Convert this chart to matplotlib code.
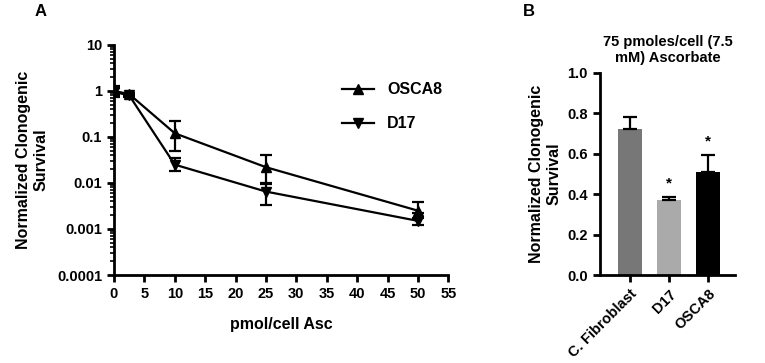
import numpy as np
import matplotlib
matplotlib.use("Agg")
import matplotlib.pyplot as plt

plt.rcParams['font.family'] = ['Liberation Sans', 'DejaVu Sans']
plt.rcParams['font.weight'] = 'bold'

# panel A data
dose = [0, 2.5, 10, 25, 50]
osca8 = [1.0, 0.85, 0.12, 0.022, 0.0025]
osca8_hi = [1.25, 0.9, 0.22, 0.04, 0.0039]
osca8_lo = [0.8, 0.8, 0.05, 0.01, 0.0017]
d17 = [0.95, 0.8, 0.025, 0.0065, 0.0015]
d17_hi = [1.15, 0.85, 0.035, 0.0095, 0.0022]
d17_lo = [0.75, 0.75, 0.018, 0.0034, 0.0012]

# panel B data
cells = ['C. Fibroblast', 'D17', 'OSCA8']
surv = [0.72, 0.37, 0.51]
surv_err = [0.06, 0.015, 0.085]
star_y = [None, 0.455, 0.66]
bar_colors = ['#777777', '#aaaaaa', '#000000']

fig = plt.figure(figsize=(7.65, 3.63), dpi=100)

# ---- A
ax = fig.add_axes([0.149, 0.2424, 0.437, 0.634])
lw = 1.6
for y, lo, hi, mk, lab in [(osca8, osca8_lo, osca8_hi, '^', 'OSCA8'),
                           (d17, d17_lo, d17_hi, 'v', 'D17')]:
    y = np.array(y)
    err = [y - np.array(lo), np.array(hi) - y]
    ax.errorbar(dose, y, yerr=err, fmt='none', ecolor='black',
                elinewidth=lw, capsize=4, capthick=lw)
    ax.plot(dose, y, color='black', marker=mk, markersize=7, lw=lw, label=lab)
ax.set_yscale('log')
ax.set_ylim(1e-4, 10)
ax.set_xlim(0, 55)
ax.set_xticks(range(0, 56, 5))
ax.set_yticks([1e-4, 1e-3, 1e-2, 1e-1, 1, 10])
ax.set_yticklabels(['0.0001', '0.001', '0.01', '0.1', '1', '10'])
ax.spines['top'].set_visible(False)
ax.spines['right'].set_visible(False)
for s in ['left', 'bottom']:
    ax.spines[s].set_linewidth(2)
ax.tick_params(axis='both', which='major', width=2, length=5, labelsize=10.5)
ax.tick_params(axis='y', which='minor', width=1.2, length=3)
ax.set_xlabel('pmol/cell Asc', fontsize=11.5, fontweight='bold', labelpad=12)
ax.set_ylabel('Normalized Clonogenic\nSurvival', fontsize=11.5, fontweight='bold', labelpad=6)
ax.legend(loc='upper left', bbox_to_anchor=(0.64, 0.9), frameon=False,
          fontsize=11.5, handlelength=2.0, labelspacing=1.2)
fig.text(0.045, 0.955, 'A', fontsize=12, fontweight='bold')

# ---- B
bx = fig.add_axes([0.784, 0.2424, 0.177, 0.557])
pos = np.arange(len(cells))
bx.bar(pos, surv, width=0.62, color=bar_colors,
       yerr=[[0] * 3, surv_err], capsize=5,
       error_kw=dict(elinewidth=1.6, capthick=1.6, ecolor='black'))
for i, sy in enumerate(star_y):
    if sy is not None:
        bx.text(pos[i], sy, '*', ha='center', va='center', fontsize=11)
bx.set_xlim(-0.77, 2.69)
bx.set_ylim(0, 1.0)
bx.set_yticks(np.arange(0, 1.01, 0.2))
bx.set_yticklabels(['0.0', '0.2', '0.4', '0.6', '0.8', '1.0'])
bx.set_xticks(pos)
bx.set_xticklabels(cells, rotation=45, ha='right', rotation_mode='anchor')
bx.spines['top'].set_visible(False)
bx.spines['right'].set_visible(False)
for s in ['left', 'bottom']:
    bx.spines[s].set_linewidth(2)
bx.tick_params(axis='both', width=2, length=5, labelsize=10.5)
bx.set_ylabel('Normalized Clonogenic\nSurvival', fontsize=11.5, fontweight='bold', labelpad=4)
bx.set_title('75 pmoles/cell (7.5\nmM) Ascorbate', fontsize=10.5, fontweight='bold', pad=8)
fig.text(0.683, 0.955, 'B', fontsize=12, fontweight='bold')

fig.savefig('out.png', dpi=100)
